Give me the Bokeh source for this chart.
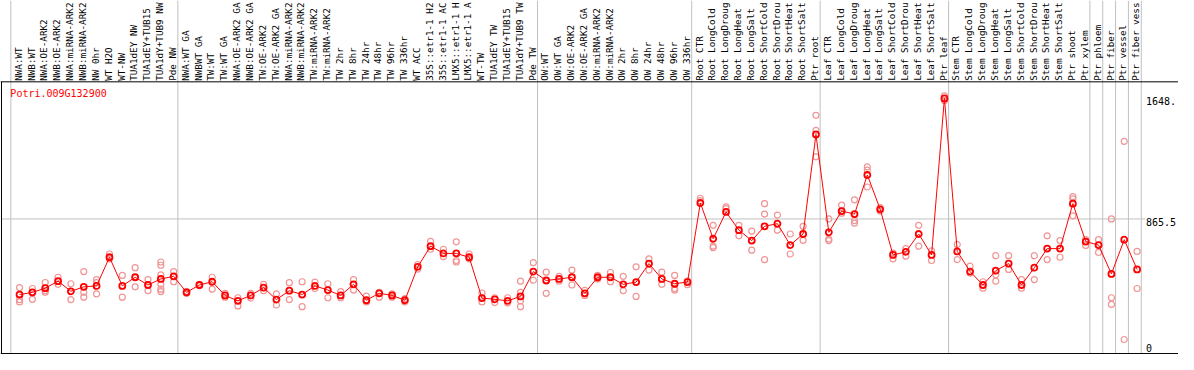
import math
from bokeh.plotting import figure
from bokeh.models import Range1d, Span
from bokeh.core.properties import value
from bokeh.embed import file_html
from bokeh.resources import INLINE

# ---------------- data ----------------
gene = "Potri.009G132900"

# sample names as far as they are legible in the source image
samples = [
    "NWA:WT", "NWB:WT", "NWA:OE-ARK2", "NWB:OE-ARK2", "NWA:miRNA-ARK2", "NWB:miRNA-ARK2",
    "NW 0hr", "WT H2O", "WT-NW", "TUA1dEY NW", "TUA1dEY+TUB15", "TUA1dY+TUB9 NW", "Pde NW",
    "NWA:WT GA", "NWBWT GA", "TW:WT", "TW:WT GA", "NWA:OE-ARK2 GA", "NWB:OE-ARK2 GA",
    "TW:OE-ARK2", "TW:OE-ARK2 GA", "NWA:miRNA-ARK2", "NWB:miRNA-ARK2", "TW:miRNA-ARK2",
    "TW:miRNA-ARK2", "TW 2hr", "TW 8hr", "TW 24hr", "TW 48hr", "TW 96hr", "TW 336hr",
    "WT ACC", "35S::etr1-1 H2", "35S::etr1-1 AC", "LMX5::etr1-1 H", "LMX5::etr1-1 A",
    "WT-TW", "TUA1dEY TW", "TUA1dEY+TUB15", "TUA1dY+TUB9 TW", "Pde TW",
    "OW:WT", "OW:WT GA", "OW:OE-ARK2", "OW:OE-ARK2 GA", "OW:miRNA-ARK2", "OW:miRNA-ARK2",
    "OW 2hr", "OW 8hr", "OW 24hr", "OW 48hr", "OW 96hr", "OW 336hr",
    "Root CTR", "Root LongCold", "Root LongDroug", "Root LongHeat", "Root LongSalt",
    "Root ShortCold", "Root ShortDrou", "Root ShortHeat", "Root ShortSalt", "Ptr root",
    "Leaf CTR", "Leaf LongCold", "Leaf LongDroug", "Leaf LongHeat", "Leaf LongSalt",
    "Leaf ShortCold", "Leaf ShortDrou", "Leaf ShortHeat", "Leaf ShortSalt", "Ptr leaf",
    "Stem CTR", "Stem LongCold", "Stem LongDroug", "Stem LongHeat", "Stem LongSalt",
    "Stem ShortCold", "Stem ShortDrou", "Stem ShortHeat", "Stem ShortSalt", "Ptr shoot",
    "Ptr xylem", "Ptr phloem", "Ptr fiber", "Ptr vessel", "Ptr fiber vess",
]

means = [
    375, 389, 416, 462, 396, 425, 431, 617, 431, 487, 437, 476, 493,
    389, 437, 458, 369, 334, 369, 420, 342, 400, 375, 431, 404, 369, 441, 338, 383, 369, 338,
    555, 689, 642, 642, 617, 352, 344, 334, 363, 524,
    466, 476, 487, 383, 487, 487, 441, 456, 576, 476, 445, 456,
    969, 737, 911, 793, 725, 818, 835, 696, 768, 1414,
    779, 917, 897, 1151, 928, 632, 652, 768, 632, 1648,
    655, 524, 437, 530, 576, 437, 549, 673, 673, 965,
    719, 696, 509, 731, 538,
]

replicates = [
    [420, 342, 327], [414, 344], [453, 400, 389], [487, 441], [445, 342], [524, 389, 358],
    [472, 452, 379], [638, 607], [499, 358], [549, 425], [472, 400],
    [586, 565, 503, 441, 410, 394], [524, 458],
    [396, 383], [441, 433], [487, 410], [383, 358], [354, 301], [383, 352], [441, 400],
    [379, 307], [452, 342], [458, 296], [456, 414], [445, 354], [394, 354], [472, 404],
    [365, 327], [389, 358], [379, 358], [348, 327],
    [570, 540], [720, 669], [669, 621], [717, 596, 586], [638, 607], [385, 327],
    [354, 323], [354, 321], [462, 389, 334, 296], [582, 468],
    [520, 383], [493, 462], [534, 437], [402, 369], [499, 476], [518, 458],
    [493, 400], [555, 363], [607, 534], [520, 441], [499, 414, 404], [462, 439],
    [1000, 984], [824, 689, 679], [944, 932], [824, 756], [787, 663], [965, 897, 601],
    [891, 793], [768, 638], [818, 727], [1538, 1441, 1269],
    [866, 735, 725], [955, 903], [990, 855, 838], [1203, 1182, 1073], [939, 917],
    [644, 607], [673, 624], [824, 689], [658, 596], [1665, 1635],
    [700, 602], [559, 514], [458, 416], [627, 503, 462], [627, 538], [472, 416],
    [627, 472], [756, 602], [725, 617], [1010, 996, 886],
    [731, 694], [731, 648], [866, 354, 311], [1369, 83], [655, 414],
]

group_breaks = [0, 13, 41, 53, 63, 73, 84, 85, 86, 87, 88]
y_ticks = [0, 865.5, 1648]
y_tick_labels = ["0", "865.5", "1648."]
y_grid = [865.5]

# ---------------- layout ----------------
W, H = 1178, 354
REF_W, REF_H = 1194, 370
X0, PITCH = 19.3, 13.02   # px of first sample, px per sample (design grid)
Y0, KY = 367.7, 0.16102   # px of value 0, px per unit (design grid)


def xd(px):
    return (px - X0) / PITCH


def yd(py):
    return (Y0 - py) / KY


FONT = value("DejaVu Sans Mono")
GRID = "#c0c0c0"

p = figure(width=W, height=H, output_backend="svg", toolbar_location=None,
           x_range=Range1d(xd(0), xd(REF_W)), y_range=Range1d(yd(REF_H), yd(0)),
           x_axis_type=None, y_axis_type=None, min_border=0,
           outline_line_color=None, background_fill_color="white")
p.grid.visible = False

idx = list(range(len(samples)))

# vertical group separators (through label area)
gx = [k + xd(10.5) for k in group_breaks]
p.segment(x0=gx, y0=[yd(369)] * len(gx), x1=gx, y1=[yd(0)] * len(gx),
          line_color=GRID, line_width=1)
# horizontal grid
p.segment(x0=[xd(1)] * len(y_grid), y0=y_grid, x1=[xd(1160)] * len(y_grid), y1=y_grid,
          line_color=GRID, line_width=1)

# frame lines
p.add_layout(Span(location=yd(85), dimension="width", line_color="black", line_width=1))
p.add_layout(Span(location=yd(369), dimension="width", line_color="black", line_width=1))
p.segment(x0=[xd(1)], y0=[yd(369)], x1=[xd(1)], y1=[yd(85)], line_color="black", line_width=1)

# sample labels (rotated)
p.text(x=[i - 0.1 for i in idx], y=[yd(84)] * len(idx), text=samples, angle=math.pi / 2,
       text_font=FONT, text_font_size="9.3px", text_align="left", text_baseline="middle",
       text_color="black")

# gene title
p.text(x=[xd(10)], y=[yd(97)], text=[gene], text_font=FONT, text_font_size="10px",
       text_align="left", text_baseline="middle", text_color="red")

# value labels on the right
top_t = [(v, s) for v, s in zip(y_ticks, y_tick_labels) if v > 0]
p.text(x=[xd(1161)] * len(top_t), y=[v for v, _ in top_t], text=[s for _, s in top_t],
       text_font=FONT, text_font_size="10px", text_align="left", text_baseline="top",
       y_offset=-1, text_color="black")
bot_t = [(v, s) for v, s in zip(y_ticks, y_tick_labels) if v <= 0]
p.text(x=[xd(1161)] * len(bot_t), y=[v for v, _ in bot_t], text=[s for _, s in bot_t],
       text_font=FONT, text_font_size="10px", text_align="left", text_baseline="bottom",
       text_color="black")

# replicate points
rx, ry = [], []
for i, reps in enumerate(replicates):
    for r in reps:
        rx.append(i)
        ry.append(r)
p.scatter(x=rx, y=ry, marker="circle", size=6, fill_color=None,
          line_color="#f09595", line_width=1.2)

# mean profile
p.line(x=idx, y=means, line_color="red", line_width=1)
p.scatter(x=idx, y=means, marker="circle", size=6, fill_color=None,
          line_color="red", line_width=1.8)

open("out.html", "w").write(file_html(p, INLINE))
